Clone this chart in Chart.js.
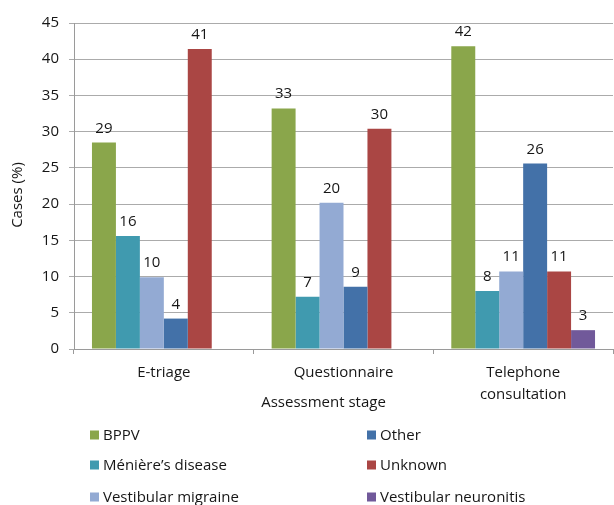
<!DOCTYPE html>
<html>
<head>
<meta charset="utf-8">
<script src="https://cdn.jsdelivr.net/npm/chart.js@4/dist/chart.umd.min.js"></script>
<style>
  html, body { margin: 0; padding: 0; background: #fff; }
  #wrap { width: 614px; height: 505px; position: relative; }
</style>
</head>
<body>
<div id="wrap"><canvas id="c" width="614" height="505"></canvas></div>
<script>
// Assessment stages (x categories)
const stages = ['E-triage', 'Questionnaire', ['Telephone', 'consultation']];

// Share of cases (%) per diagnosis at each stage
const bppv       = [28.5, 33.2, 41.8];
const meniere    = [15.6, 7.2, 8.0];
const migraine   = [9.9, 20.2, 10.7];
const other      = [4.2, 8.6, 25.6];
const unknown    = [41.4, 30.4, 10.7];
const neuronitis = [0, 0, 2.6];

const seriesNames = ['BPPV', 'Ménière’s disease', 'Vestibular migraine', 'Other', 'Unknown', 'Vestibular neuronitis'];
const seriesData = [bppv, meniere, migraine, other, unknown, neuronitis];
const seriesColors = ['#8aa64b', '#409aaf', '#93aad3', '#4371a8', '#aa4644', '#71599a'];

// y-axis ticks
const yMin = 0, yMax = 45, yStep = 5;

const FONT = '"Open Sans", "DejaVu Sans", sans-serif';
const TEXT = '#161616';

// Value labels above bars, axis titles and a two-column legend
const annotate = {
  id: 'annotate',
  afterDatasetsDraw(chart) {
    const ctx = chart.ctx;
    ctx.save();
    ctx.font = '15px ' + FONT;
    ctx.fillStyle = TEXT;
    ctx.textAlign = 'center';
    ctx.textBaseline = 'alphabetic';
    chart.data.datasets.forEach((ds, i) => {
      chart.getDatasetMeta(i).data.forEach((bar, j) => {
        const v = ds.data[j];
        if (!v) return;
        ctx.fillText(String(Math.round(v)), bar.x, bar.y - 10);
      });
    });
    ctx.restore();
  },
  afterDraw(chart) {
    const ctx = chart.ctx;
    const a = chart.chartArea;
    ctx.save();
    ctx.font = '15px ' + FONT;
    ctx.fillStyle = TEXT;
    ctx.textAlign = 'center';
    ctx.textBaseline = 'middle';
    ctx.fillText('Assessment stage', (a.left + a.right) / 2 - 20, a.bottom + 54);

    // rotated y-axis title
    ctx.save();
    ctx.translate(18, (a.top + a.bottom) / 2 + 9);
    ctx.rotate(-Math.PI / 2);
    ctx.fillText('Cases (%)', 0, 0);
    ctx.restore();

    // legend: first three series in the left column, the rest on the right
    const cols = [a.left + 16, a.left + 293];
    const rows = [a.bottom + 86, a.bottom + 116, a.bottom + 148];
    ctx.textAlign = 'left';
    chart.data.datasets.forEach((ds, i) => {
      const cx = cols[Math.floor(i / 3)];
      const cy = rows[i % 3];
      ctx.fillStyle = ds.backgroundColor;
      ctx.fillRect(cx, cy - 4.5, 9, 9);
      ctx.fillStyle = TEXT;
      ctx.fillText(ds.label, cx + 13, cy + 1);
    });
    ctx.restore();
  }
};

new Chart(document.getElementById('c'), {
  type: 'bar',
  data: {
    labels: stages,
    datasets: seriesNames.map((name, i) => ({
      label: name,
      data: seriesData[i],
      backgroundColor: seriesColors[i],
      borderWidth: 0
    }))
  },
  options: {
    responsive: false,
    animation: false,
    events: [],
    layout: { padding: { top: 23, right: 1, bottom: 99, left: 0 } },
    datasets: { bar: { categoryPercentage: 0.8, barPercentage: 1.0 } },
    plugins: { legend: { display: false }, tooltip: { enabled: false } },
    scales: {
      x: {
        grid: { offset: true, drawOnChartArea: false, drawTicks: true, tickLength: 5, color: '#9a9a9a' },
        border: { color: '#9a9a9a' },
        ticks: { color: TEXT, font: { family: FONT, size: 15, lineHeight: 22 / 15 }, padding: 8, maxRotation: 0 },
        afterFit(s) { s.height = 57; }
      },
      y: {
        min: yMin, max: yMax,
        ticks: { stepSize: yStep, color: TEXT, font: { family: FONT, size: 15 }, padding: 10 },
        grid: { color: '#ababab', tickLength: 5 },
        border: { color: '#9a9a9a' },
        afterFit(s) { s.width = 74; }
      }
    }
  },
  plugins: [annotate]
});
</script>
</body>
</html>
